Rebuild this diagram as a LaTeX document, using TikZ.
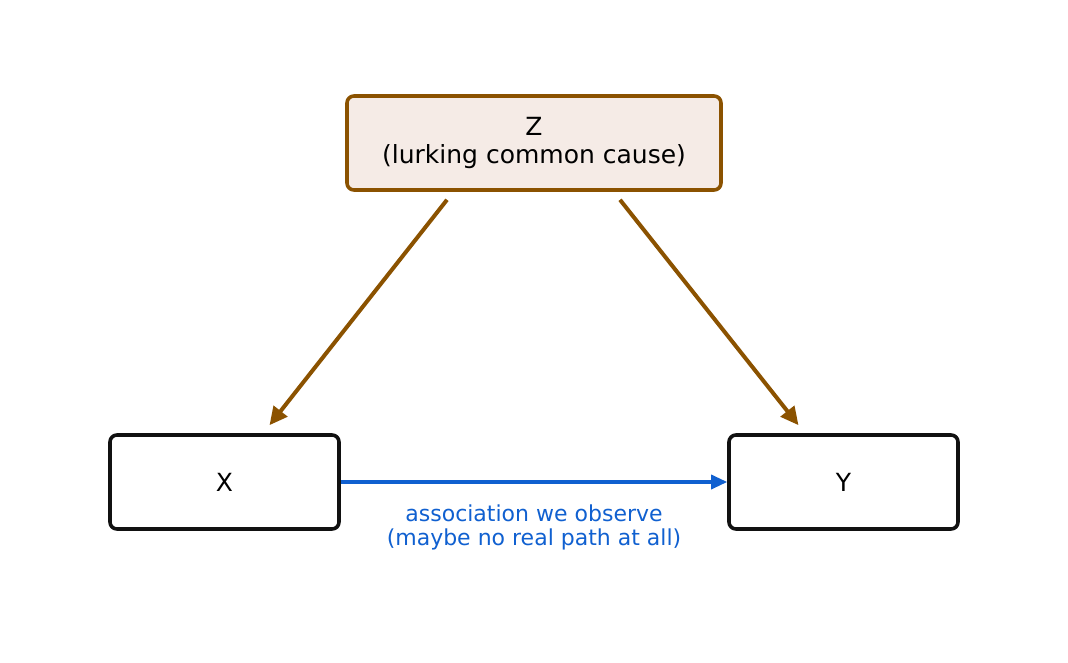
\documentclass[tikz,border=0pt]{standalone}
\usepackage{fontspec}
\setmainfont{DejaVu Sans}
\usetikzlibrary{arrows.meta}
\definecolor{brownc}{HTML}{8B5200}
\definecolor{zfill}{HTML}{F5EBE6}
\definecolor{bluec}{HTML}{1060D0}
\definecolor{boxk}{HTML}{111111}
\begin{document}
\begin{tikzpicture}[x=1pt,y=-1pt,
  nodebox/.style={draw=boxk,line width=3.6pt,rounded corners=7pt,minimum width=229pt,minimum height=94pt,inner sep=0pt,font=\fontsize{25}{28}\selectfont,align=center},
  zbox/.style={nodebox,draw=brownc,fill=zfill,minimum width=374pt},
  brarr/.style={draw=brownc,line width=4pt,-{Triangle[length=18pt,width=17pt]}},
  blarr/.style={draw=bluec,line width=3.3pt,-{Triangle[length=16pt,width=14pt]}}]
\useasboundingbox (0,0) rectangle (1068,663);
\node[zbox] (Z) at (534,143) {Z\\(lurking common cause)};
\node[nodebox] (X) at (224.5,482) {X};
\node[nodebox] (Y) at (843.5,482) {Y};
\draw[brarr] ([xshift=-87pt,yshift=-8pt]Z.south) -- ([xshift=45pt,yshift=8pt]X.north);
\draw[brarr] ([xshift=86pt,yshift=-8pt]Z.south) -- ([xshift=-45pt,yshift=8pt]Y.north);
\draw[blarr] (X.east) -- (Y.west) node[midway,below=18pt,text=bluec,align=center,font=\fontsize{22}{24}\selectfont] (lbl) {association we observe\\(maybe no real path at all)};
\end{tikzpicture}
\end{document}
